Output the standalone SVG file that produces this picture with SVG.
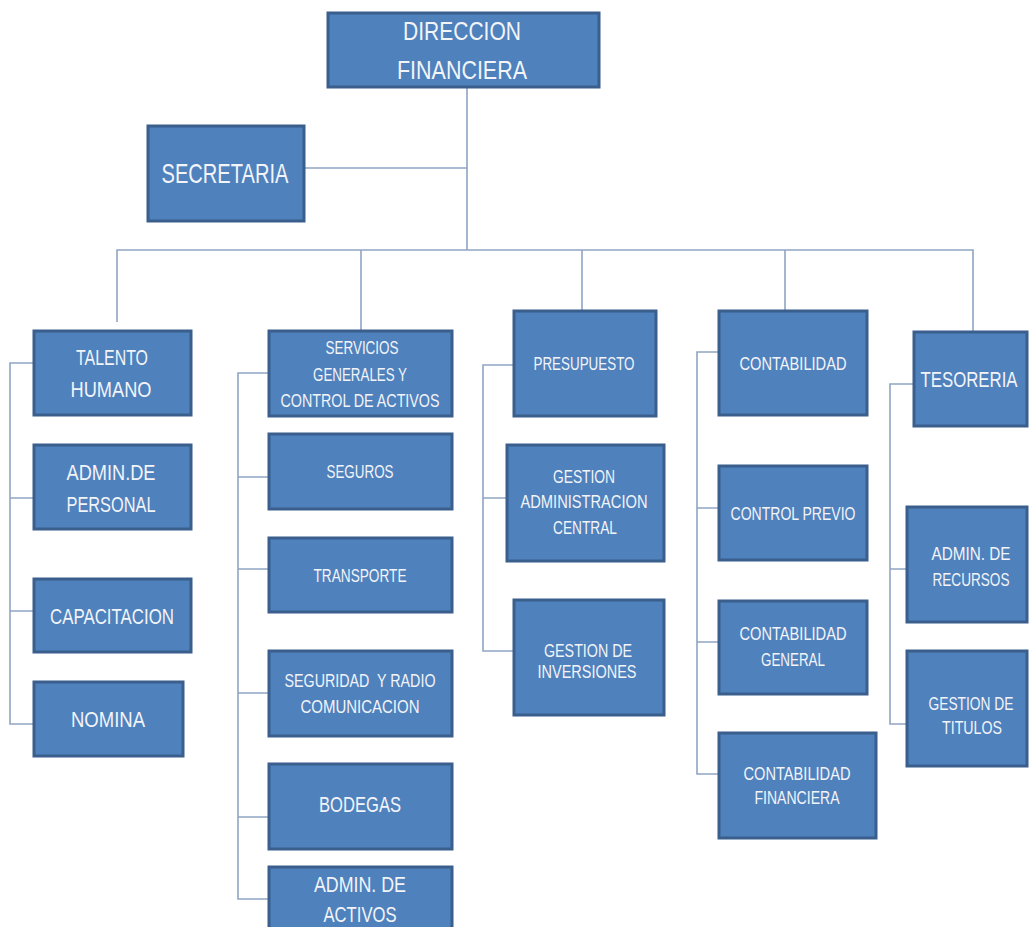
<svg xmlns="http://www.w3.org/2000/svg" width="1030" height="927" viewBox="0 0 1030 927">
<style>
.box{fill:#4F81BD;stroke:#3A5F8C;stroke-width:3}
.t{fill:#F2F4F8;font-family:"Liberation Sans",Arial,sans-serif;text-anchor:middle}
.c{fill:none;stroke:#8FA5C4;stroke-width:1.6}
</style>
<rect width="1030" height="927" fill="#FFFFFF"/>
<g id="connectors">
<path class="c" d="M467,87 V250"/>
<path class="c" d="M305,168 H467"/>
<path class="c" d="M117,322 V250 H973 V332"/>
<path class="c" d="M361,250 V331"/>
<path class="c" d="M582,250 V311"/>
<path class="c" d="M785,250 V311"/>
<path class="c" d="M34,363 H10 V724 H34 M10,498 H34 M10,611 H34"/>
<path class="c" d="M269,373 H238 V899 H269 M238,477 H269 M238,569 H269 M238,693 H269 M238,817 H269"/>
<path class="c" d="M514,365 H483 V651 H514 M483,498 H507"/>
<path class="c" d="M719,352 H697 V774 H719 M697,508 H719 M697,642 H719"/>
<path class="c" d="M914,384 H890 V724 H907 M890,569 H907"/>
</g>
<g id="direccion"><rect class="box" x="328" y="13" width="271" height="74"/>
<text class="t" font-size="25" x="462" y="40" textLength="118" lengthAdjust="spacingAndGlyphs">DIRECCION</text>
<text class="t" font-size="25" x="462" y="79" textLength="130" lengthAdjust="spacingAndGlyphs">FINANCIERA</text></g>
<g id="secretaria"><rect class="box" x="148" y="126" width="156" height="95"/>
<text class="t" font-size="28" x="225" y="183" textLength="127" lengthAdjust="spacingAndGlyphs">SECRETARIA</text></g>
<g id="talento"><rect class="box" x="34" y="331" width="157" height="84"/>
<text class="t" font-size="22" x="112" y="365" textLength="72" lengthAdjust="spacingAndGlyphs">TALENTO</text>
<text class="t" font-size="22" x="111" y="397" textLength="81" lengthAdjust="spacingAndGlyphs">HUMANO</text></g>
<g id="admpersonal"><rect class="box" x="34" y="445" width="157" height="84"/>
<text class="t" font-size="22" x="111" y="480" textLength="89" lengthAdjust="spacingAndGlyphs">ADMIN.DE</text>
<text class="t" font-size="22" x="111" y="512" textLength="89" lengthAdjust="spacingAndGlyphs">PERSONAL</text></g>
<g id="capacitacion"><rect class="box" x="34" y="579" width="157" height="73"/>
<text class="t" font-size="22" x="112" y="624" textLength="124" lengthAdjust="spacingAndGlyphs">CAPACITACION</text></g>
<g id="nomina"><rect class="box" x="34" y="682" width="149" height="74"/>
<text class="t" font-size="22" x="108" y="727" textLength="74" lengthAdjust="spacingAndGlyphs">NOMINA</text></g>
<g id="servicios"><rect class="box" x="269" y="331" width="183" height="85"/>
<text class="t" font-size="18" x="362" y="354" textLength="73" lengthAdjust="spacingAndGlyphs">SERVICIOS</text>
<text class="t" font-size="18" x="360" y="381" textLength="94" lengthAdjust="spacingAndGlyphs">GENERALES Y</text>
<text class="t" font-size="18" x="360" y="407" textLength="159" lengthAdjust="spacingAndGlyphs">CONTROL DE ACTIVOS</text></g>
<g id="seguros"><rect class="box" x="269" y="434" width="183" height="75"/>
<text class="t" font-size="18" x="360" y="478" textLength="67" lengthAdjust="spacingAndGlyphs">SEGUROS</text></g>
<g id="transporte"><rect class="box" x="269" y="538" width="183" height="74"/>
<text class="t" font-size="18" x="360" y="582" textLength="93" lengthAdjust="spacingAndGlyphs">TRANSPORTE</text></g>
<g id="seguridad"><rect class="box" x="269" y="651" width="183" height="85"/>
<text class="t" font-size="18" x="360" y="687" textLength="151" lengthAdjust="spacingAndGlyphs" xml:space="preserve">SEGURIDAD  Y RADIO</text>
<text class="t" font-size="18" x="360" y="713" textLength="119" lengthAdjust="spacingAndGlyphs">COMUNICACION</text></g>
<g id="bodegas"><rect class="box" x="269" y="764" width="183" height="85"/>
<text class="t" font-size="22" x="360" y="812" textLength="82" lengthAdjust="spacingAndGlyphs">BODEGAS</text></g>
<g id="admactivos"><rect class="box" x="269" y="867" width="183" height="72"/>
<text class="t" font-size="22" x="360" y="892" textLength="92" lengthAdjust="spacingAndGlyphs">ADMIN. DE</text>
<text class="t" font-size="22" x="360" y="922" textLength="73" lengthAdjust="spacingAndGlyphs">ACTIVOS</text></g>
<g id="presupuesto"><rect class="box" x="514" y="311" width="142" height="105"/>
<text class="t" font-size="18" x="584" y="370" textLength="101" lengthAdjust="spacingAndGlyphs">PRESUPUESTO</text></g>
<g id="gestionadm"><rect class="box" x="507" y="445" width="157" height="116"/>
<text class="t" font-size="18" x="584" y="483" textLength="62" lengthAdjust="spacingAndGlyphs">GESTION</text>
<text class="t" font-size="18" x="584" y="508" textLength="127" lengthAdjust="spacingAndGlyphs">ADMINISTRACION</text>
<text class="t" font-size="18" x="585" y="534" textLength="64" lengthAdjust="spacingAndGlyphs">CENTRAL</text></g>
<g id="gestioninv"><rect class="box" x="514" y="600" width="150" height="115"/>
<text class="t" font-size="18" x="588" y="657" textLength="88" lengthAdjust="spacingAndGlyphs">GESTION DE</text>
<text class="t" font-size="18" x="587" y="678" textLength="99" lengthAdjust="spacingAndGlyphs">INVERSIONES</text></g>
<g id="contabilidad"><rect class="box" x="719" y="311" width="148" height="104"/>
<text class="t" font-size="18" x="793" y="370" textLength="107" lengthAdjust="spacingAndGlyphs">CONTABILIDAD</text></g>
<g id="controlprevio"><rect class="box" x="719" y="466" width="148" height="94"/>
<text class="t" font-size="18" x="793" y="520" textLength="125" lengthAdjust="spacingAndGlyphs">CONTROL PREVIO</text></g>
<g id="contgeneral"><rect class="box" x="719" y="601" width="148" height="93"/>
<text class="t" font-size="18" x="793" y="640" textLength="107" lengthAdjust="spacingAndGlyphs">CONTABILIDAD</text>
<text class="t" font-size="18" x="793" y="666" textLength="64" lengthAdjust="spacingAndGlyphs">GENERAL</text></g>
<g id="contfinanciera"><rect class="box" x="719" y="733" width="157" height="105"/>
<text class="t" font-size="18" x="797" y="780" textLength="107" lengthAdjust="spacingAndGlyphs">CONTABILIDAD</text>
<text class="t" font-size="18" x="797" y="804" textLength="85" lengthAdjust="spacingAndGlyphs">FINANCIERA</text></g>
<g id="tesoreria"><rect class="box" x="914" y="332" width="113" height="94"/>
<text class="t" font-size="22" x="969" y="387" textLength="97" lengthAdjust="spacingAndGlyphs">TESORERIA</text></g>
<g id="admrecursos"><rect class="box" x="907" y="507" width="120" height="115"/>
<text class="t" font-size="18" x="971" y="560" textLength="79" lengthAdjust="spacingAndGlyphs">ADMIN. DE</text>
<text class="t" font-size="18" x="971" y="586" textLength="77" lengthAdjust="spacingAndGlyphs">RECURSOS</text></g>
<g id="gestiontitulos"><rect class="box" x="907" y="651" width="120" height="115"/>
<text class="t" font-size="18" x="971" y="710" textLength="85" lengthAdjust="spacingAndGlyphs">GESTION DE</text>
<text class="t" font-size="18" x="972" y="734" textLength="60" lengthAdjust="spacingAndGlyphs">TITULOS</text></g>
</svg>
